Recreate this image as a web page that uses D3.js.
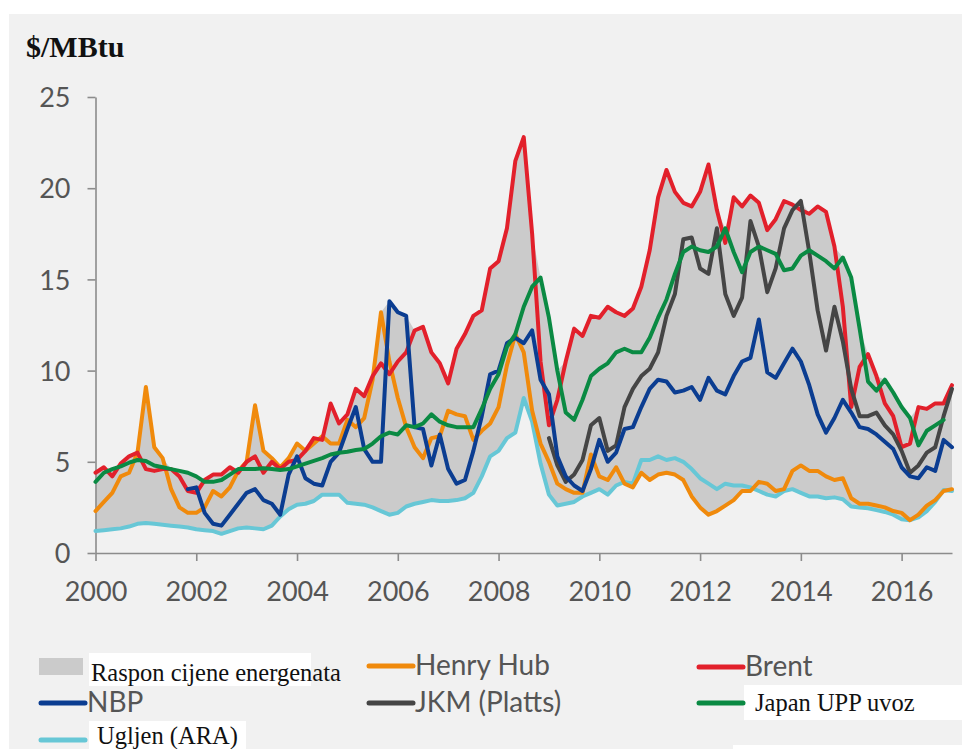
<!DOCTYPE html>
<html><head><meta charset="utf-8">
<script src="https://cdn.jsdelivr.net/npm/d3@7"></script>
<style>
html,body{margin:0;padding:0;background:#fff;}
svg{display:block;}
</style></head>
<body>
<svg id="chart" width="962" height="749"></svg>
<script>
// ---- DATA (2-monthly grid, 2000.0 .. 2017.0) ----
const dates = d3.range(103).map(i => 2000 + i / 6);
const yTicks = [0, 5, 10, 15, 20, 25];
const xTicks = [2000, 2002, 2004, 2006, 2008, 2010, 2012, 2014, 2016];

const brent = [4.4,4.7,4.2,4.9,5.3,5.5,4.6,4.5,4.6,4.6,
 4.2,3.4,3.3,4.0,4.3,4.3,4.7,4.4,5.0,5.3,
 4.4,5.0,4.6,5.0,5.1,5.6,6.3,6.2,8.2,7.1,
 7.6,9.0,8.6,9.7,10.4,9.8,10.5,11.0,12.2,12.4,
 11.0,10.4,9.3,11.2,12.0,13.0,13.3,15.6,16.0,17.8,
 21.5,22.8,17.5,10.5,7.0,8.4,10.5,12.3,11.9,13.0,
 12.9,13.5,13.2,13.0,13.4,14.6,16.6,19.5,21.0,19.8,
 19.2,19.0,19.8,21.3,18.8,17.0,19.5,19.0,19.6,19.2,
 17.7,18.3,19.3,19.1,18.8,18.6,19.0,18.7,16.8,13.5,
 8.0,10.2,10.9,9.7,8.2,7.5,5.8,6.0,8.0,7.9,
 8.2,8.2,9.2];

const henryHub = [2.3,2.8,3.3,4.2,4.4,5.5,9.1,5.8,5.2,3.5,
 2.5,2.2,2.2,2.5,3.4,3.1,3.6,4.5,5.0,8.1,
 5.6,5.2,4.7,5.2,6.0,5.6,6.0,6.4,6.0,6.0,
 7.3,6.9,7.4,9.5,13.2,10.5,8.5,6.9,5.8,5.2,
 6.3,6.4,7.8,7.6,7.5,6.2,6.7,7.1,8.0,10.3,
 12.0,11.0,7.8,6.0,5.0,3.8,3.5,3.3,3.3,5.4,
 4.2,4.0,4.7,3.8,3.6,4.4,4.0,4.3,4.4,4.3,
 4.0,3.1,2.5,2.1,2.3,2.6,2.9,3.4,3.4,3.9,
 3.8,3.4,3.5,4.5,4.8,4.5,4.5,4.2,4.0,4.1,
 3.0,2.7,2.7,2.6,2.5,2.3,2.2,1.8,2.1,2.6,
 2.9,3.4,3.5];

const nbp = [null,null,null,null,null,null,null,null,null,null,
 null,3.5,3.6,2.2,1.6,1.5,2.1,2.7,3.3,3.5,
 2.9,2.7,2.1,4.3,5.3,4.1,3.8,3.7,5.0,5.5,
 6.8,8.0,5.7,5.0,5.0,13.8,13.2,13.0,6.9,6.8,
 4.8,6.5,4.6,3.8,4.0,5.6,7.5,9.8,10.0,11.5,
 11.8,11.5,12.2,9.5,8.7,5.3,4.2,3.7,3.4,4.6,
 6.2,5.0,5.5,6.8,6.9,8.0,9.0,9.5,9.4,8.8,
 8.9,9.1,8.4,9.6,8.9,8.7,9.7,10.5,10.7,12.8,
 9.9,9.6,10.4,11.2,10.5,9.2,7.6,6.6,7.4,8.4,
 7.7,6.9,6.8,6.5,6.1,5.7,4.7,4.2,4.1,4.7,
 4.5,6.2,5.8];

const jkm = [null,null,null,null,null,null,null,null,null,null,
 null,null,null,null,null,null,null,null,null,null,
 null,null,null,null,null,null,null,null,null,null,
 null,null,null,null,null,null,null,null,null,null,
 null,null,null,null,null,null,null,null,null,null,
 null,null,null,null,6.3,4.8,3.9,4.3,5.1,7.0,
 7.4,5.6,5.9,8.0,9.0,9.7,10.1,11.0,13.0,14.2,
 17.2,17.3,15.6,15.3,17.8,14.2,13.0,14.0,18.2,16.8,
 14.3,15.6,17.8,18.8,19.3,16.5,13.3,11.1,13.5,11.6,
 9.0,7.5,7.5,7.7,7.0,6.5,5.6,4.4,4.8,5.5,
 5.8,7.5,9.0];

const japanUPP = [3.9,4.4,4.6,4.75,4.95,5.1,5.05,4.8,4.7,4.6,
 4.5,4.4,4.2,3.9,3.9,4.0,4.3,4.6,4.6,4.6,
 4.65,4.6,4.55,4.6,4.75,4.9,5.05,5.2,5.4,5.5,
 5.55,5.65,5.7,6.0,6.4,6.6,6.5,7.0,6.9,7.1,
 7.6,7.2,7.0,6.9,6.9,6.9,7.9,9.0,9.8,11.3,
 12.0,13.5,14.6,15.1,12.9,10.0,7.7,7.3,8.4,9.7,
 10.1,10.4,11.0,11.2,11.0,11.0,11.8,12.9,13.9,15.3,
 16.5,16.8,16.6,16.5,16.8,17.8,16.5,15.4,16.5,16.8,
 16.6,16.4,15.5,15.6,16.3,16.6,16.3,16.0,15.6,16.2,
 15.1,12.3,9.4,8.9,9.5,8.8,8.0,7.4,5.9,6.7,
 7.0,7.3,null];

const coalARA = [1.2,1.25,1.3,1.35,1.45,1.6,1.65,1.6,1.55,1.5,
 1.45,1.4,1.3,1.25,1.2,1.05,1.2,1.35,1.4,1.35,
 1.3,1.5,2.0,2.4,2.65,2.7,2.85,3.2,3.2,3.2,
 2.75,2.7,2.65,2.5,2.3,2.1,2.2,2.55,2.7,2.8,
 2.9,2.85,2.85,2.9,3.0,3.3,4.2,5.3,5.6,6.3,
 6.6,8.5,7.2,4.9,3.2,2.6,2.7,2.8,3.1,3.3,
 3.5,3.2,3.7,3.9,3.8,5.1,5.1,5.3,5.1,5.2,
 5.0,4.6,4.1,3.8,3.5,3.8,3.7,3.7,3.6,3.4,
 3.2,3.1,3.4,3.5,3.3,3.1,3.1,3.0,3.05,2.95,
 2.55,2.5,2.45,2.35,2.25,2.1,1.85,1.8,1.95,2.3,
 2.8,3.45,3.4];

const seriesNames = ["Ugljen (ARA)", "Henry Hub", "Brent", "JKM (Platts)", "NBP", "Japan UPP uvoz"];

// ---- STYLE ----
const colors = {
  "Brent": "#e2202b", "Henry Hub": "#f08a0c", "NBP": "#0b3d91",
  "JKM (Platts)": "#454545", "Japan UPP uvoz": "#0a8a43", "Ugljen (ARA)": "#67c7d6"
};
const valuesByName = {
  "Brent": brent, "Henry Hub": henryHub, "NBP": nbp,
  "JKM (Platts)": jkm, "Japan UPP uvoz": japanUPP, "Ugljen (ARA)": coalARA
};

const svg = d3.select("#chart");
svg.append("rect").attr("x", 9).attr("y", 14).attr("width", 953).attr("height", 735).attr("fill", "#f1f1f1");

const x = d3.scaleLinear().domain([2000, 2017]).range([95.5, 952]);
const y = d3.scaleLinear().domain([0, 25]).range([553, 97]);

// band = range of all prices
const band = dates.map((d, i) => {
  const vals = seriesNames.map(n => valuesByName[n][i]).filter(v => v != null);
  return {d, lo: d3.min(vals), hi: d3.max(vals)};
}).filter(b => b.lo != null);

svg.append("path").datum(band)
  .attr("fill", "#cbcbcb")
  .attr("d", d3.area().x(b => x(b.d)).y0(b => y(b.lo)).y1(b => y(b.hi)));

// axes
const axisColor = "#8c8c8c";
const labelFont = "Lato, 'Open Sans', sans-serif";
const yAxis = svg.append("g").attr("transform", "translate(95.5,0)")
  .call(d3.axisLeft(y).tickValues(yTicks).tickSize(8).tickPadding(17).tickSizeOuter(0));
const xAxis = svg.append("g").attr("transform", "translate(0,553)")
  .call(d3.axisBottom(x).tickValues(xTicks).tickFormat(d3.format("d")).tickSize(8).tickSizeOuter(0));
[yAxis, xAxis].forEach(g => {
  g.select(".domain").attr("stroke", axisColor).attr("stroke-width", 1.6);
  g.selectAll(".tick line").attr("stroke", axisColor).attr("stroke-width", 1.6);
  g.selectAll(".tick text").attr("fill", "#555").attr("font-family", labelFont).attr("font-size", 27);
});
yAxis.selectAll(".tick text").attr("dy", "0.36em");
xAxis.selectAll(".tick text").attr("y", 48).attr("dy", 0);

// lines
const line = d3.line().defined(v => v.v != null).x(v => x(v.d)).y(v => y(v.v));
seriesNames.forEach(n => {
  const pts = dates.map((d, i) => ({d, v: valuesByName[n][i]}));
  svg.append("path").datum(pts)
    .attr("fill", "none").attr("stroke", colors[n]).attr("stroke-width", 4)
    .attr("stroke-linejoin", "round").attr("stroke-linecap", "round")
    .attr("d", line);
});

// title
svg.append("text").attr("x", 26).attr("y", 57).text("$/MBtu")
  .attr("font-family", "'Liberation Serif', 'Times New Roman', serif").attr("font-weight", "bold")
  .attr("font-size", 30).attr("fill", "#111");

// legend
const serif = "'Liberation Serif', 'Times New Roman', serif";
const lg = svg.append("g");
// white patches
lg.append("rect").attr("x", 89).attr("y", 653).attr("width", 222).attr("height", 33).attr("fill", "#fff");
lg.append("rect").attr("x", 744).attr("y", 685).attr("width", 218).attr("height", 35).attr("fill", "#fff");
lg.append("rect").attr("x", 89).attr("y", 721).attr("width", 157).attr("height", 28).attr("fill", "#fff");
lg.append("rect").attr("x", 733).attr("y", 745).attr("width", 229).attr("height", 4).attr("fill", "#fff");

lg.append("rect").attr("x", 39).attr("y", 658).attr("width", 44).attr("height", 17).attr("fill", "#cbcbcb");
lg.append("text").attr("x", 91).attr("y", 681).text("Raspon cijene energenata")
  .attr("font-family", serif).attr("font-size", 24.5).attr("fill", "#111");

const legendItems = [
  {name: "Henry Hub", x: 367, y: 666, serifText: false},
  {name: "Brent", x: 697, y: 667, serifText: false},
  {name: "NBP", x: 39, y: 703, serifText: false},
  {name: "JKM (Platts)", x: 367, y: 703, serifText: false},
  {name: "Japan UPP uvoz", x: 697, y: 703, serifText: true},
  {name: "Ugljen (ARA)", x: 39, y: 740, serifText: true}
];
legendItems.forEach(it => {
  lg.append("line").attr("x1", it.x + 2).attr("x2", it.x + 46).attr("y1", it.y).attr("y2", it.y)
    .attr("stroke", colors[it.name]).attr("stroke-width", 5).attr("stroke-linecap", "round");
  if (it.serifText) {
    lg.append("text").attr("x", it.x + 58).attr("y", it.y + (it.y > 730 ? 4 : 8)).text(it.name)
      .attr("font-family", serif).attr("font-size", 24.5).attr("fill", "#111");
  } else {
    lg.append("text").attr("x", it.x + 48).attr("y", it.y + 9).text(it.name)
      .attr("font-family", labelFont).attr("font-size", 28).attr("fill", "#555");
  }
});
</script>
</body></html>
